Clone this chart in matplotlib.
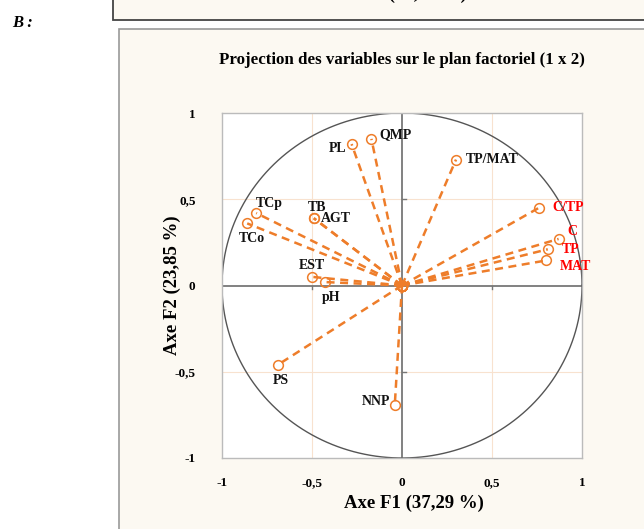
import matplotlib.pyplot as plt
import numpy as np
from matplotlib.patches import Rectangle

plt.rcParams["font.family"] = ["Liberation Serif", "DejaVu Serif"]
plt.rcParams["font.weight"] = "bold"

# variable coordinates on the first factorial plane
variables = ["PL", "QMP", "TP/MAT", "C/TP", "C", "TP", "MAT",
             "TCp", "TCo", "TB", "AGT", "EST", "pH", "PS", "NNP"]
f1 = [-0.28, -0.17, 0.30, 0.76, 0.87, 0.81, 0.80,
      -0.81, -0.86, -0.49, -0.49, -0.50, -0.43, -0.69, -0.04]
f2 = [0.82, 0.85, 0.73, 0.45, 0.27, 0.21, 0.145,
      0.42, 0.36, 0.39, 0.39, 0.05, 0.02, -0.46, -0.69]
highlighted = ["C/TP", "C", "TP", "MAT"]
ticks = [-1, -0.5, 0, 0.5, 1]
tick_labels = ["-1", "-0,5", "0", "0,5", "1"]

# label placement: (dx, dy) in points, horizontal alignment
label_pos = {
    "PL": (-4, -3, "right"), "QMP": (6, 3, "left"), "TP/MAT": (7, 0, "left"),
    "C/TP": (10, 0, "left"), "C": (6, 5, "left"), "TP": (10, 0, "left"),
    "MAT": (10, -4, "left"), "TCp": (0, 7, "left"), "TCo": (-6, -11, "left"),
    "TB": (-4, 8, "left"), "AGT": (5, 0, "left"), "EST": (0, 8, "center"),
    "pH": (5, -11, "center"), "PS": (2, -11, "center"), "NNP": (-3, 2, "right"),
}

ORANGE = "#EE7D2A"
CREAM = "#FCF9F2"

fig = plt.figure(figsize=(6.44, 5.29), dpi=100, facecolor="white")

# page frames
fig.add_artist(Rectangle((113 / 644, 1 - 20 / 529), 0.9, 0.2, transform=fig.transFigure,
                         facecolor=CREAM, edgecolor="#444444", lw=1.3, clip_on=False,
                         zorder=-2))
fig.add_artist(Rectangle((119 / 644, -0.2), 0.9, 1.2 - 29 / 529, transform=fig.transFigure,
                         facecolor=CREAM, edgecolor="#999999", lw=1.2, clip_on=False,
                         zorder=-2))
fig.text(397 / 644, 1 + 6 / 529, "Axe F1 (37,29 %)", ha="center", va="center", fontsize=13.5)
fig.text(12 / 644, 1 - 23 / 529, "B :", ha="left", va="center", fontsize=12, style="italic")

ax = fig.add_axes([222 / 644, 1 - 458 / 529, 360 / 644, 345 / 529])
ax.set_zorder(2)
ax.set_facecolor("white")
ax.set_xlim(-1, 1)
ax.set_ylim(-1, 1)
for s in ax.spines.values():
    s.set_color("#BBBBBB")
    s.set_linewidth(1.0)

for v in (-0.5, 0.5):
    ax.axvline(v, color="#F8E2CF", lw=0.8, zorder=0)
    ax.axhline(v, color="#F8E2CF", lw=0.8, zorder=0)
ax.axhline(0, color="#777777", lw=1.3, zorder=1)
ax.axvline(0, color="#777777", lw=1.3, zorder=1)
for v in (-0.5, 0.5):
    ax.plot([v, v], [0, -0.02], color="#777777", lw=1, zorder=1)
    ax.plot([0, 0.02], [v, v], color="#777777", lw=1, zorder=1)

theta = np.linspace(0, 2 * np.pi, 400)
ax.plot(np.cos(theta), np.sin(theta), color="#555555", lw=1.0, zorder=2)

for name, x, y in zip(variables, f1, f2):
    ax.plot([0, x], [0, y], color=ORANGE, lw=1.8, dashes=(3.2, 2.2), zorder=3,
            marker="o", ms=7, mfc="none", mec=ORANGE, mew=1.1)
    dx, dy, ha = label_pos[name]
    color = "red" if name in highlighted else "#111111"
    ax.annotate(name, (x, y), xytext=(dx, dy), textcoords="offset points",
                ha=ha, va="center", fontsize=10, color=color, zorder=4)

ax.set_xticks(ticks)
ax.set_xticklabels(tick_labels)
ax.set_yticks(ticks)
ax.set_yticklabels(tick_labels)
ax.tick_params(length=0, labelsize=9.5)
ax.tick_params(axis="x", pad=14)
ax.tick_params(axis="y", pad=19)

fig.text(402 / 644, 1 - 60 / 529, "Projection des variables sur le plan factoriel (1 x 2)",
         ha="center", va="center", fontsize=12.2)
fig.text(414 / 644, 1 - 503 / 529, "Axe F1 (37,29 %)", ha="center", va="center", fontsize=13.5)
fig.text(172 / 644, 1 - 285 / 529, "Axe F2 (23,85 %)", ha="center", va="center",
         rotation=90, fontsize=13.5)

fig.savefig("out.png", dpi=100)
